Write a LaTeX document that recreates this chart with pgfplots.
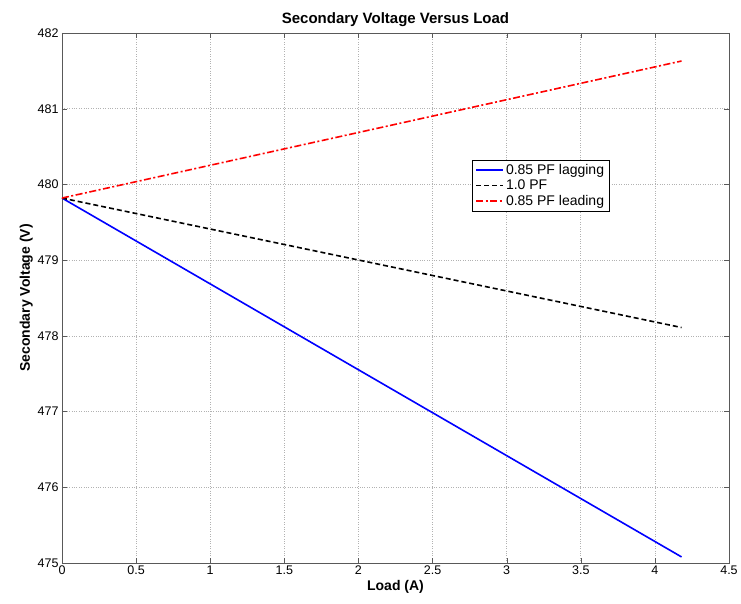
\documentclass[border=0pt]{standalone}
\usepackage{pgfplots}
\pgfplotsset{compat=1.18}
\usepackage{fontspec}
\setmainfont{Liberation Sans}
\newcommand\legfont{\fontsize{14}{16}\selectfont}
\begin{document}
\begin{tikzpicture}
\begin{axis}[
  name=ax,
  scale only axis,
  width=667pt, height=530pt,
  xmin=0, xmax=4.5, ymin=475, ymax=482,
  xtick={0,0.5,...,4.5},
  ytick={475,476,...,482},
  xticklabels={0,0.5,1,1.5,2,2.5,3,3.5,4,4.5},
  yticklabel style={/pgf/number format/fixed},
  /pgf/number format/assume math mode=true,
  tick label style={font=\fontsize{12.5}{14}\selectfont},
  xticklabel style={yshift=1pt},
  grid=major,
  major grid style={gray!60, dotted, line width=0.6pt},
  axis line style={gray!70!black, line width=0.8pt},
  tick style={gray!70!black},
  tick align=inside,
  major tick length=5pt,
  legend image code/.code={\draw[mark repeat=2,mark phase=2,#1,line width=1.6pt] plot coordinates {(0pt,0pt) (13.5pt,0pt) (27pt,0pt)};},
  title={\textbf{Secondary Voltage Versus Load}},
  title style={font=\fontsize{15}{17}\selectfont, yshift=-3pt},
  xlabel={\textbf{Load (A)}},
  ylabel={\textbf{Secondary Voltage (V)}},
  label style={font=\fontsize{14}{16}\selectfont},
  xlabel style={yshift=1pt},
  ylabel style={yshift=-2pt},
  legend style={at={(0.615,0.76)}, anchor=north west, font=\legfont},
  legend cell align=left,
]
\addplot[color=blue, line width=1.6pt] coordinates {(0,479.82) (4.18,475.08)};
\addlegendentry{0.85 PF lagging}
\addplot[color=black, line width=1.6pt, dash pattern=on 5pt off 3pt] coordinates {(0,479.82) (4.18,478.11)};
\addlegendentry{1.0 PF}
\addplot[color=red, line width=1.6pt, dash pattern=on 7pt off 2.5pt on 2pt off 2.5pt] coordinates {(0,479.82) (4.18,481.63)};
\addlegendentry{0.85 PF leading}
\end{axis}
\pgfresetboundingbox
\useasboundingbox ([shift={(-62pt,-41pt)}]ax.south west) rectangle ([shift={(12pt,33pt)}]ax.north east);
\end{tikzpicture}
\end{document}
